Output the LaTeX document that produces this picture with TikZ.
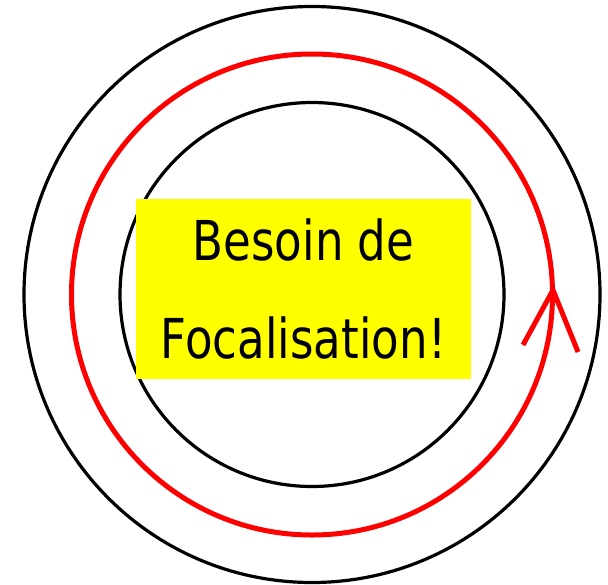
\documentclass[tikz,border=0pt]{standalone}
\usepackage{fontspec}
\setmainfont{DejaVu Sans}[FakeStretch=0.82]
\definecolor{FOCred}{RGB}{255, 0, 0}
\definecolor{FOCyellow}{RGB}{255, 255, 0}

\begin{document}
\begin{tikzpicture}[x=1pt,y=-1pt]
    \useasboundingbox (0,0) rectangle (608,584);
    \coordinate (centre) at (312,294.5);
    \draw[line width=3.2pt] (centre) circle[radius=288pt];
    \draw[line width=3.2pt] (centre) circle[radius=192pt];
    \draw[line width=5pt,FOCred] (centre) circle[radius=240.5pt];
    % pointe ouverte sur le cercle rouge
    \coordinate (tip) at (553,290);
    \coordinate (wingL) at (523,345);
    \coordinate (wingR) at (578,352);
    \draw[line width=5pt,FOCred] (wingL) -- (tip) -- (wingR);
    \node[fill=FOCyellow,minimum width=335pt,minimum height=180pt,inner sep=0pt,align=center,
          font=\fontsize{55}{98}\selectfont] (focus) at (303.5,289) {Besoin de\\Focalisation!};
\end{tikzpicture}
\end{document}
